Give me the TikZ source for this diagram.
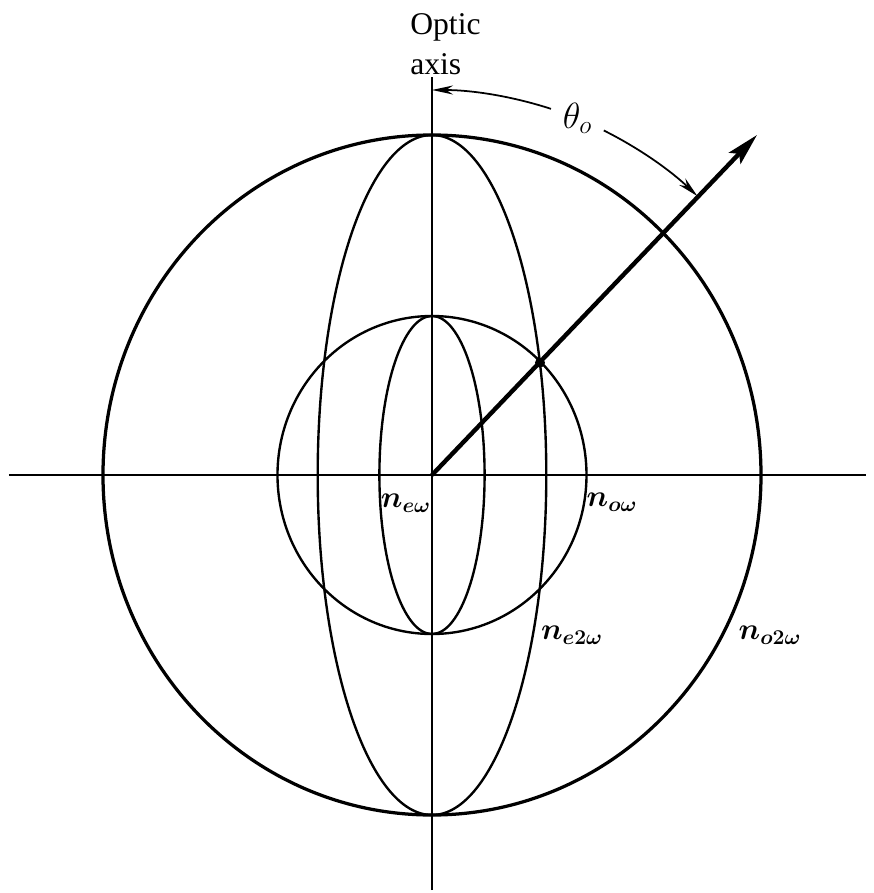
\documentclass[tikz,border=0pt]{standalone}
\usepackage{amsmath}
\usepackage{fontspec}
\setmainfont{Liberation Serif}
\usepackage{tikz}
\usetikzlibrary{arrows.meta}
\tikzset{
  axisline/.style={line width=1.2pt},
  surface/.style={line width=1.35pt},
  outersurface/.style={line width=1.85pt},
  ray/.style={-{Stealth[length=0.64cm, width=0.32cm, inset=0.12cm]}, line width=2.5pt},
  anglearrow/.style={-{Stealth[length=0.42cm, width=0.18cm]}, line width=1pt},
  label/.style={font=\fontsize{16.5}{20}\selectfont\boldmath, inner sep=0pt},
  anglelabel/.style={font=\fontsize{20}{24}\selectfont, inner sep=0pt},
  axislabel/.style={font=\fontsize{18}{23}\selectfont, align=left, inner sep=0pt},
}

\begin{document}
\begin{tikzpicture}[x=0.02cm, y=0.02cm]
\useasboundingbox (-432,-418) rectangle (442,475);
\coordinate (O) at (0,0);
\coordinate (axtop) at (0,398);
\coordinate (axbot) at (0,-415);
\coordinate (axleft) at (-423,0);
\coordinate (axright) at (434,0);
\coordinate (P) at (108,112.3);
\coordinate (tip) at (325,340);
% axes
\draw[axisline] (axbot) -- (axtop);
\draw[axisline] (axleft) -- (axright);
% index surfaces
\draw[outersurface] (O) ellipse [x radius=329, y radius=340];
\draw[surface] (O) ellipse [x radius=154.5, y radius=159];
\draw[surface] (O) ellipse [x radius=114.3, y radius=340];
\draw[surface] (O) ellipse [x radius=52.6, y radius=159];
% direction of propagation
\draw[ray] (O) -- (tip);
\fill (P) circle (5);
\draw[anglearrow] (72:385) arc [start angle=72, end angle=90, radius=385];
\draw[anglearrow] (63.5:385) arc [start angle=63.5, end angle=46.4, radius=385];
\node[anglelabel] (theta) at (67.8:385) {$\theta_o$};
\node[axislabel, anchor=north west] (optic) at (-22,462) {Optic\\axis};
\node[label] (neo) at (-26,-28) {$n_{e\omega}$};
\node[label] (noo) at (180,-27) {$n_{o\omega}$};
\node[label] (ne2o) at (140,-160) {$n_{e2\omega}$};
\node[label] (no2o) at (338,-160) {$n_{o2\omega}$};
\end{tikzpicture}
\end{document}
